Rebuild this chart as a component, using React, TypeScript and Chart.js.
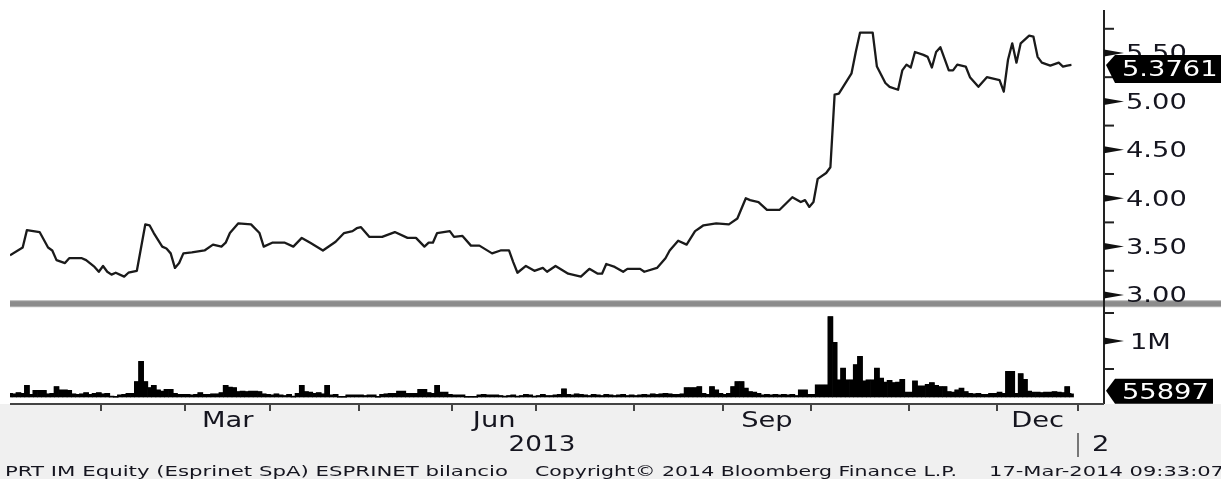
import React, { useEffect, useRef } from "react";
import { Chart, registerables } from "chart.js";

Chart.register(...registerables);

// ---------- data (x = trading-day index in 2013) ----------
const priceDays = [
  0, 3, 4, 7, 9, 10, 11, 13, 14, 17, 18, 20, 21, 22, 23, 24, 25, 27, 28, 30,
  32, 33, 34, 36, 37, 38, 39, 40, 41, 43, 46, 48, 50, 51, 52, 54, 57, 59, 60, 62,
  65, 67, 69, 71, 74, 77, 79, 81, 82, 83, 85, 88, 91, 94, 96, 98, 99, 100, 101, 104,
  105, 107, 109, 111, 114, 116, 118, 119, 120, 122, 124, 126, 127, 129, 132, 135, 137, 139, 140, 141,
  143, 145, 146, 149, 150, 153, 155, 156, 158, 160, 162, 163, 164, 167, 170, 172, 174, 175, 177, 179,
  182, 185, 187, 188, 189, 190, 191, 193, 194, 195, 196, 197, 199, 200, 201, 204, 205, 207, 208, 210,
  211, 212, 213, 214, 216, 217, 218, 219, 220, 222, 223, 224, 226, 227, 229, 231, 234, 235, 236, 237,
  238, 239, 241, 242, 243, 244, 246, 248, 249, 250, 251,
];
const prices = [
  3.41, 3.49, 3.67, 3.65, 3.49, 3.46, 3.36, 3.33, 3.38, 3.38, 3.36, 3.29, 3.24, 3.3, 3.24, 3.21, 3.23, 3.19, 3.23, 3.25,
  3.73, 3.72, 3.64, 3.5, 3.48, 3.43, 3.28, 3.33, 3.43, 3.44, 3.46, 3.52, 3.5, 3.54, 3.64, 3.74, 3.73, 3.64, 3.5, 3.54,
  3.54, 3.5, 3.59, 3.54, 3.46, 3.55, 3.64, 3.66, 3.69, 3.7, 3.6, 3.6, 3.65, 3.59, 3.59, 3.5, 3.54, 3.54, 3.64, 3.66,
  3.6, 3.61, 3.51, 3.51, 3.43, 3.46, 3.46, 3.34, 3.23, 3.3, 3.25, 3.28, 3.24, 3.3, 3.22, 3.19, 3.27, 3.22, 3.22, 3.32,
  3.29, 3.24, 3.27, 3.27, 3.24, 3.28, 3.38, 3.46, 3.56, 3.52, 3.66, 3.69, 3.72, 3.74, 3.73, 3.79, 4.0, 3.98, 3.96, 3.88,
  3.88, 4.01, 3.96, 3.98, 3.91, 3.96, 4.2, 4.26, 4.32, 5.07, 5.08, 5.15, 5.29, 5.51, 5.71, 5.71, 5.36, 5.19, 5.15, 5.12,
  5.32, 5.38, 5.35, 5.51, 5.48, 5.46, 5.35, 5.51, 5.56, 5.32, 5.32, 5.38, 5.36, 5.25, 5.15, 5.25, 5.22, 5.1, 5.43, 5.6,
  5.4, 5.6, 5.68, 5.67, 5.46, 5.4, 5.37, 5.4, 5.36, 5.37, 5.3761,
];
const volumes = [
  60000, 50000, 70000, 60000, 200000, 40000, 110000, 110000, 110000, 50000,
  60000, 180000, 120000, 120000, 110000, 50000, 40000, 50000, 70000, 40000,
  60000, 70000, 50000, 60000, 10000, 5000, 30000, 40000, 60000, 60000,
  270000, 630000, 270000, 160000, 200000, 120000, 100000, 130000, 130000, 60000,
  40000, 40000, 40000, 30000, 40000, 70000, 40000, 40000, 50000, 50000,
  70000, 200000, 170000, 160000, 90000, 100000, 90000, 100000, 100000, 90000,
  50000, 40000, 30000, 50000, 30000, 20000, 40000, 10000, 60000, 200000,
  90000, 80000, 60000, 70000, 50000, 200000, 30000, 40000, 5000, 5000,
  30000, 30000, 30000, 30000, 20000, 30000, 30000, 5000, 40000, 50000,
  60000, 60000, 100000, 100000, 60000, 60000, 60000, 130000, 130000, 70000,
  60000, 200000, 80000, 80000, 40000, 30000, 30000, 30000, 5000, 5000,
  5000, 30000, 40000, 30000, 30000, 30000, 20000, 10000, 20000, 30000,
  10000, 20000, 40000, 30000, 10000, 20000, 40000, 20000, 20000, 30000,
  40000, 140000, 40000, 30000, 50000, 40000, 30000, 20000, 40000, 30000,
  20000, 40000, 30000, 20000, 30000, 40000, 20000, 30000, 20000, 30000,
  40000, 30000, 50000, 40000, 50000, 60000, 50000, 40000, 40000, 50000,
  160000, 160000, 160000, 180000, 60000, 40000, 180000, 120000, 60000, 40000,
  60000, 180000, 270000, 270000, 150000, 90000, 80000, 60000, 30000, 40000,
  30000, 40000, 30000, 40000, 30000, 40000, 20000, 120000, 120000, 40000,
  40000, 210000, 210000, 210000, 1430000, 970000, 300000, 510000, 300000, 300000,
  570000, 720000, 280000, 300000, 300000, 510000, 330000, 260000, 290000, 250000,
  260000, 310000, 80000, 80000, 280000, 190000, 190000, 220000, 250000, 200000,
  180000, 180000, 90000, 80000, 120000, 150000, 90000, 60000, 50000, 60000,
  40000, 40000, 60000, 60000, 80000, 60000, 450000, 450000, 60000, 410000,
  310000, 100000, 80000, 80000, 70000, 80000, 80000, 90000, 80000, 70000,
  180000, 55897,
];

// axis ticks
const priceTicks = [3.0, 3.5, 4.0, 4.5, 5.0, 5.5];
const priceMinorTicks = [3.25, 3.75, 4.25, 4.75, 5.25, 5.75];
const volumeTicks = [1000000];
const volumeTickLabels = ["1M"];
const volumeMinorTicks = [500000, 1500000];
// month boundaries (between trading days)
const monthBoundaries = [21.5, 41.5, 61.5, 82.5, 104.5, 124.5, 147.5, 168.5, 189.5, 212.5, 233.5, 252.5];
const monthLabels = ["Mar", "Jun", "Sep", "Dec"];
const monthLabelCenters = [51.5, 114.5, 179, 243];
const yearLabel = "2013";
const yearCenter = 125.8;
const nextYearLabel = "2";
const lastPriceLabel = "5.3761";
const lastVolumeLabel = "55897";
const footerLeft = "PRT IM Equity (Esprinet SpA) ESPRINET bilancio";
const footerMid = "Copyright\u00A9 2014 Bloomberg Finance L.P.";
const footerRight = "17-Mar-2014 09:33:07";

const W = 1221;
const H = 479;
const FONT = '"DejaVu Sans", Verdana, sans-serif';
const TEXT = "#15151f";

function stretchText(
  ctx: CanvasRenderingContext2D,
  text: string,
  x: number,
  y: number,
  size: number,
  sx: number,
  align: "left" | "center" | "right",
  color: string
) {
  ctx.save();
  ctx.font = `${size}px ${FONT}`;
  ctx.fillStyle = color;
  ctx.textAlign = "left";
  ctx.textBaseline = "alphabetic";
  const w = ctx.measureText(text).width * sx;
  const x0 = align === "center" ? x - w / 2 : align === "right" ? x - w : x;
  ctx.translate(x0, y);
  ctx.scale(sx, 1);
  ctx.fillText(text, 0, 0);
  ctx.restore();
}

function fitText(ctx: CanvasRenderingContext2D, text: string, x0: number, x1: number, y: number, size: number, color: string) {
  ctx.save();
  ctx.font = `${size}px ${FONT}`;
  const w = ctx.measureText(text).width;
  ctx.restore();
  stretchText(ctx, text, x0, y, size, (x1 - x0) / w, "left", color);
}

const decor = {
  id: "decor",
  beforeDraw(chart: any) {
    const ctx = chart.ctx as CanvasRenderingContext2D;
    ctx.save();
    ctx.fillStyle = "#ffffff";
    ctx.fillRect(0, 0, W, H);
    ctx.fillStyle = "#f0f0f0";
    ctx.fillRect(0, chart.chartArea.bottom, W, H - chart.chartArea.bottom);
    ctx.restore();
  },
  afterDraw(chart: any) {
    const ctx = chart.ctx as CanvasRenderingContext2D;
    const { left, right, top, bottom } = chart.chartArea;
    const xs = chart.scales.x;
    const ys = chart.scales.y;
    const yv = chart.scales.yv;
    const sx = 1.3;
    ctx.save();

    // separator between panels
    const sepY = ys.getPixelForValue(2.91);
    ctx.fillStyle = "#b4b4b4";
    ctx.fillRect(left, sepY - 3.5, W - left, 7);
    ctx.fillStyle = "#8c8c8c";
    ctx.fillRect(left, sepY - 2.5, W - left, 5);

    // right axis line
    ctx.strokeStyle = "#222";
    ctx.lineWidth = 2;
    ctx.beginPath();
    ctx.moveTo(right, top);
    ctx.lineTo(right, bottom);
    ctx.stroke();

    // bottom axis line + month ticks
    ctx.strokeStyle = "#444";
    ctx.beginPath();
    ctx.moveTo(left, bottom);
    ctx.lineTo(right, bottom);
    ctx.stroke();
    monthBoundaries.forEach((d) => {
      const px = Math.round(xs.getPixelForValue(d));
      ctx.beginPath();
      ctx.moveTo(px, bottom);
      ctx.lineTo(px, bottom + 7);
      ctx.stroke();
    });

    const arrow = (py: number) => {
      ctx.fillStyle = "#111";
      ctx.beginPath();
      ctx.moveTo(right, py - 3.5);
      ctx.lineTo(right + 20, py);
      ctx.lineTo(right, py + 3.5);
      ctx.closePath();
      ctx.fill();
    };
    const minor = (py: number) => {
      ctx.fillStyle = "#222";
      ctx.fillRect(right, py - 1, 10, 2);
    };

    // price ticks
    priceMinorTicks.forEach((v) => minor(ys.getPixelForValue(v)));
    priceTicks.forEach((v) => {
      const py = ys.getPixelForValue(v);
      arrow(py);
      stretchText(ctx, v.toFixed(2), right + 22, py + 7.5, 21, sx, "left", TEXT);
    });
    // volume ticks
    volumeMinorTicks.forEach((v) => minor(yv.getPixelForValue(v)));
    volumeTicks.forEach((v, i) => {
      const py = yv.getPixelForValue(v);
      arrow(py);
      stretchText(ctx, volumeTickLabels[i], right + 26, py + 7.5, 21, sx, "left", TEXT);
    });

    // last value boxes
    const box = (py: number, tipDy: number, hTop: number, hBot: number, x1: number, label: string) => {
      ctx.fillStyle = "#000";
      ctx.beginPath();
      ctx.moveTo(right + 2, py + tipDy);
      ctx.lineTo(right + 11, py - hTop);
      ctx.lineTo(x1, py - hTop);
      ctx.lineTo(x1, py + hBot);
      ctx.lineTo(right + 11, py + hBot);
      ctx.closePath();
      ctx.fill();
      stretchText(ctx, label, right + 18, py + (hBot - hTop) / 2 + 7.5, 21, sx, "left", "#ffffff");
    };
    box(ys.getPixelForValue(prices[prices.length - 1]), 0, 10, 18, W, lastPriceLabel);
    box(yv.getPixelForValue(volumes[volumes.length - 1]), -3, 15, 10, 1213, lastVolumeLabel);

    // month labels
    monthLabels.forEach((m, i) => {
      stretchText(ctx, m, xs.getPixelForValue(monthLabelCenters[i]), bottom + 23, 21, sx, "center", TEXT);
    });
    stretchText(ctx, yearLabel, xs.getPixelForValue(yearCenter), bottom + 47, 21, 1.25, "center", TEXT);
    const yb = Math.round(xs.getPixelForValue(monthBoundaries[monthBoundaries.length - 1]));
    ctx.strokeStyle = "#777";
    ctx.lineWidth = 2;
    ctx.beginPath();
    ctx.moveTo(yb, bottom + 29);
    ctx.lineTo(yb, bottom + 53);
    ctx.stroke();
    stretchText(ctx, nextYearLabel, yb + 14, bottom + 47, 21, sx, "left", TEXT);

    // footer
    fitText(ctx, footerLeft, 5, 508, 476, 14, TEXT);
    fitText(ctx, footerMid, 535, 957, 476, 14, TEXT);
    fitText(ctx, footerRight, 989, 1224, 476, 14, TEXT);

    ctx.restore();
  },
};

export default function App() {
  const ref = useRef<HTMLCanvasElement>(null);
  useEffect(() => {
    document.body.style.margin = "0";
    const canvas = ref.current!;
    const chart = new Chart(canvas, {
      type: "line",
      data: {
        datasets: [
          {
            type: "line",
            label: "Price",
            data: priceDays.map((d, i) => ({ x: d, y: prices[i] })),
            yAxisID: "y",
            borderColor: "#1a1a1a",
            borderWidth: 2.3,
            pointRadius: 0,
            tension: 0,
            borderJoinStyle: "round",
          },
          {
            type: "bar",
            label: "Volume",
            data: volumes.map((v, i) => ({ x: i, y: v })),
            yAxisID: "yv",
            backgroundColor: "#000",
            borderWidth: 0,
            barPercentage: 1,
            categoryPercentage: 1,
          } as any,
          {
            type: "line",
            label: "Volume outline",
            data: volumes.map((v, i) => ({ x: i, y: v })),
            yAxisID: "yv",
            borderColor: "#000",
            borderWidth: 1.5,
            pointRadius: 0,
            stepped: "middle",
          },
        ],
      },
      options: {
        responsive: false,
        devicePixelRatio: 1,
        animation: false,
        layout: { padding: { left: 10, top: 10, right: 117, bottom: 75 } },
        plugins: { legend: { display: false }, tooltip: { enabled: false } },
        scales: {
          x: { type: "linear", min: 0, max: 258.7, offset: false, display: false },
          y: { type: "linear", min: 1.874, max: 5.944, display: false },
          yv: { type: "linear", min: -125000, max: 6910714, display: false },
        },
      },
      plugins: [decor],
    });
    return () => chart.destroy();
  }, []);
  return <canvas ref={ref} width={W} height={H} style={{ display: "block", width: W, height: H }} />;
}
